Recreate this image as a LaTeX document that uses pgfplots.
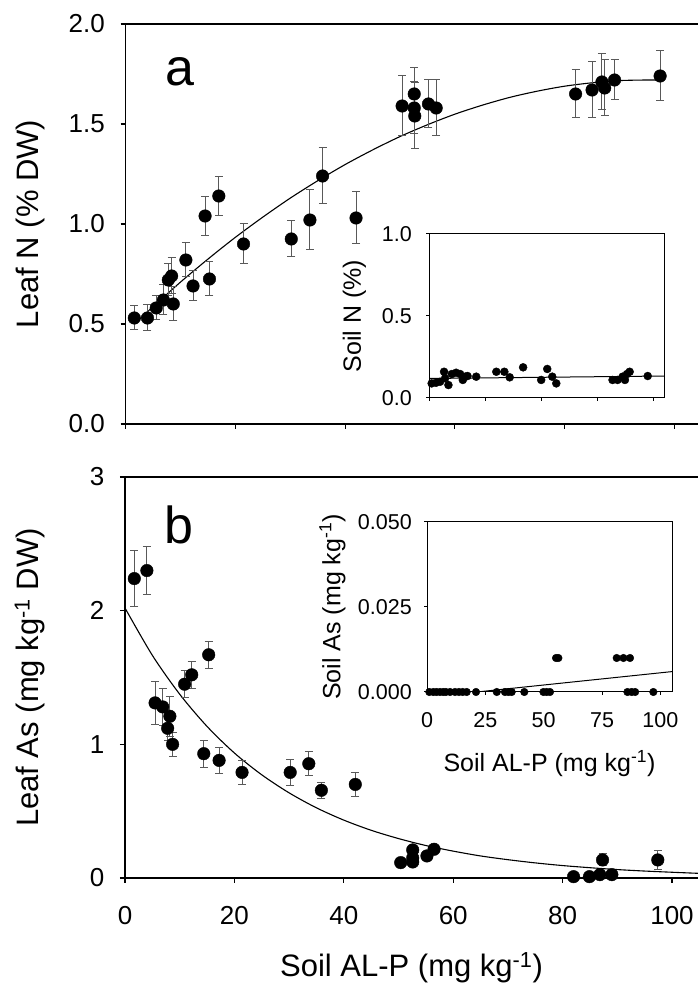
\documentclass[border=0pt]{standalone}
\usepackage{fontspec}
\setmainfont{Liberation Sans}
\usepackage{pgfplots}
\usepackage{pgfplotstable}
\pgfplotsset{compat=1.18}

\pgfplotstableread{
x y e
1.6 0.53 0.06
4.0 0.53 0.065
5.6 0.58 0.06
6.9 0.62 0.075
7.8 0.72 0.08
8.4 0.74 0.09
8.7 0.60 0.085
11.0 0.82 0.085
12.3 0.69 0.075
14.5 1.04 0.097
15.3 0.725 0.085
17.0 1.14 0.096
21.5 0.90 0.10
30.2 0.925 0.09
33.6 1.02 0.15
35.9 1.24 0.14
42.0 1.03 0.13
50.4 1.59 0.15
52.6 1.65 0.13
52.6 1.58 0.13
52.7 1.54 0.165
55.2 1.60 0.12
56.6 1.58 0.14
82.0 1.65 0.12
85.0 1.67 0.14
86.8 1.71 0.14
87.3 1.68 0.14
89.1 1.72 0.10
97.4 1.74 0.125
}\leafN

\pgfplotstableread{
x y e
1.7 2.24 0.21
4.0 2.30 0.18
5.5 1.31 0.16
6.9 1.28 0.14
8.2 1.21 0.15
7.8 1.12 0.09
8.7 1.00 0.09
10.9 1.45 0.10
12.2 1.52 0.10
15.3 1.67 0.10
14.4 0.93 0.10
17.2 0.88 0.10
21.4 0.79 0.09
30.2 0.79 0.10
33.6 0.855 0.09
35.9 0.656 0.06
42.1 0.70 0.09
50.4 0.115 0
52.6 0.21 0
52.6 0.15 0
52.6 0.12 0
55.2 0.165 0
56.5 0.215 0
82.0 0.01 0
84.9 0.01 0
86.8 0.025 0
87.3 0.135 0.045
89.0 0.025 0
97.4 0.135 0.07
}\leafAs

\pgfplotstableread{
x y
1.19 0.089
3.13 0.093
4.92 0.099
6.70 0.160
7.15 0.120
8.64 0.079
10.13 0.146
12.06 0.154
13.85 0.146
15.04 0.110
16.09 0.130
17.13 0.134
21.00 0.130
29.94 0.160
33.51 0.160
35.89 0.126
41.85 0.187
49.89 0.110
52.58 0.177
54.81 0.130
56.60 0.089
81.62 0.110
83.86 0.110
86.09 0.130
87.13 0.110
88.03 0.146
89.22 0.160
97.26 0.134
}\soilN

\pgfplotstableread{
x y
1.0 0
2.7 0
4.1 0
5.6 0
7.0 0
8.1 0
9.9 0
12.0 0
13.7 0
15.3 0
17.0 0
21.0 0
29.9 0
33.4 0
34.9 0
36.3 0
41.7 0
49.9 0
51.3 0
52.7 0
85.9 0
87.7 0
89.2 0
97.0 0
55.3 0.01
56.3 0.01
81.3 0.01
84.2 0.01
87.0 0.01
}\soilAs

\pgfplotsset{
  mainax/.style={
    scale only axis, anchor=south west,
    axis line style={line width=1.1pt, black},
    tick style={line width=1.1pt, black},
    tick align=outside, major tick length=5pt, tick pos=left,
    /pgf/number format/assume math mode=true,
    ticklabel style={font=\fontsize{26}{26}\selectfont},
    yticklabel style={anchor=east, inner sep=0pt, xshift=-15.5pt},
    xticklabel style={anchor=north, inner sep=0pt, yshift=-23.5pt},
    label style={font=\fontsize{31}{31}\selectfont},
  },
  insetax/.style={
    scale only axis, anchor=south west,
    axis line style={line width=1pt, black},
    tick style={line width=1pt, black},
    tick align=outside, major tick length=3pt, tick pos=left,
    /pgf/number format/assume math mode=true,
    ticklabel style={font=\fontsize{21.5}{21.5}\selectfont},
    label style={font=\fontsize{25}{25}\selectfont},
  },
  errstyle/.style={
    only marks, mark=*, mark size=6.3pt, mark options={fill=black, draw=black},
    error bars/.cd, y dir=both, y explicit,
    error bar style={line width=1pt, black!65},
    error mark options={rotate=90, mark size=4pt, line width=1pt, black!65},
  },
}

\begin{document}
\begin{tikzpicture}[x=1pt,y=1pt]
\useasboundingbox (0pt,0pt) rectangle (698pt,983pt);

% ---------- panel a ----------
\begin{axis}[mainax,
  at={(125.5pt,559pt)}, width=572.5pt, height=400pt,
  axis y line*=left,
  xmin=0, xmax=104.3, ymin=0, ymax=2,
  xtick={0,20,40,60,80,100}, xticklabels={},
  ytick={0,0.5,1,1.5,2},
  yticklabel style={/pgf/number format/.cd, fixed, fixed zerofill, precision=1},
  ylabel={Leaf N (\% DW)},
  ylabel style={at={(axis description cs:-0.1668,0.5)}, anchor=center},
]
\addplot[black, line width=1.1pt, smooth] coordinates {
(1.6,0.499) (5,0.586) (10,0.709) (15,0.824) (20,0.933) (25,1.034) (30,1.129)
(35,1.216) (40,1.297) (45,1.370) (50,1.437) (55,1.496) (60,1.549) (65,1.594)
(70,1.633) (75,1.664) (80,1.689) (85,1.706) (90,1.717) (95,1.72) (97.4,1.72)};
\addplot[errstyle] table[x=x, y=y, y error=e] {\leafN};
\end{axis}

% ---------- panel b ----------
\begin{axis}[mainax,
  at={(125pt,105pt)}, width=573pt, height=401pt,
  axis y line*=left,
  xmin=0, xmax=104.75, ymin=0, ymax=3,
  xtick={0,20,40,60,80,100},
  ytick={0,1,2,3},
  ylabel={Leaf As (mg kg\textsuperscript{-1} DW)},
  ylabel style={at={(axis description cs:-0.1658,0.5)}, anchor=center},
  xlabel={Soil AL-P (mg kg\textsuperscript{-1})},
  xlabel style={at={(axis description cs:0.5,-0.2244)}, anchor=center},
]
\addplot[black, line width=1.1pt, smooth] coordinates {
(0,2.02) (5,1.666) (10,1.375) (15,1.134) (20,0.935) (25,0.772) (30,0.637)
(35,0.525) (40,0.433) (45,0.357) (50,0.295) (55,0.243) (60,0.201) (65,0.165)
(70,0.137) (75,0.113) (80,0.093) (85,0.077) (90,0.063) (95,0.052) (100,0.043)
(104.75,0.035)};
\addplot[errstyle] table[x=x, y=y, y error=e] {\leafAs};
\end{axis}

% ---------- inset a ----------
\begin{axis}[insetax,
  at={(429pt,585pt)}, width=235pt, height=164pt,
  xmin=0, xmax=104.5, ymin=0, ymax=1,
  xtick={0,25,50,75,100}, xticklabels={},
  ytick={0,0.5,1},
  yticklabel style={anchor=east, inner sep=0pt, xshift=-14pt,
    /pgf/number format/.cd, fixed, fixed zerofill, precision=1},
  ylabel={Soil N (\%)},
  ylabel style={at={(axis description cs:-0.317,0.5)}, anchor=center},
]
\addplot[black, line width=1pt] coordinates {(0,0.119) (104.5,0.134)};
\addplot[only marks, mark=*, mark size=4pt, mark options={fill=black, draw=black}] table[x=x, y=y] {\soilN};
\end{axis}

% ---------- inset b ----------
\begin{axis}[insetax,
  at={(427pt,291pt)}, width=245pt, height=170pt,
  xmin=0, xmax=105, ymin=0, ymax=0.05,
  xtick={0,25,50,75,100},
  ytick={0,0.025,0.05},
  yticklabel style={anchor=east, inner sep=0pt, xshift=-12pt,
    /pgf/number format/.cd, fixed, fixed zerofill, precision=3},
  xticklabel style={anchor=north, inner sep=0pt, yshift=-17.3pt},
  scaled y ticks=false,
  ylabel={Soil As (mg kg\textsuperscript{-1})},
  ylabel style={at={(axis description cs:-0.386,0.5)}, anchor=center},
  xlabel={Soil AL-P (mg kg\textsuperscript{-1})},
  xlabel style={at={(axis description cs:0.5,-0.42)}, anchor=center},
]
\addplot[black, line width=1pt] coordinates {(0,-0.00153) (105,0.006)};
\addplot[only marks, mark=*, mark size=3.8pt, mark options={fill=black, draw=black}] table[x=x, y=y] {\soilAs};
\end{axis}

\node[font=\fontsize{52}{52}\selectfont] at (179.5pt,911pt) {a};
\node[font=\fontsize{52}{52}\selectfont] at (179pt,458pt) {b};
\end{tikzpicture}
\end{document}
